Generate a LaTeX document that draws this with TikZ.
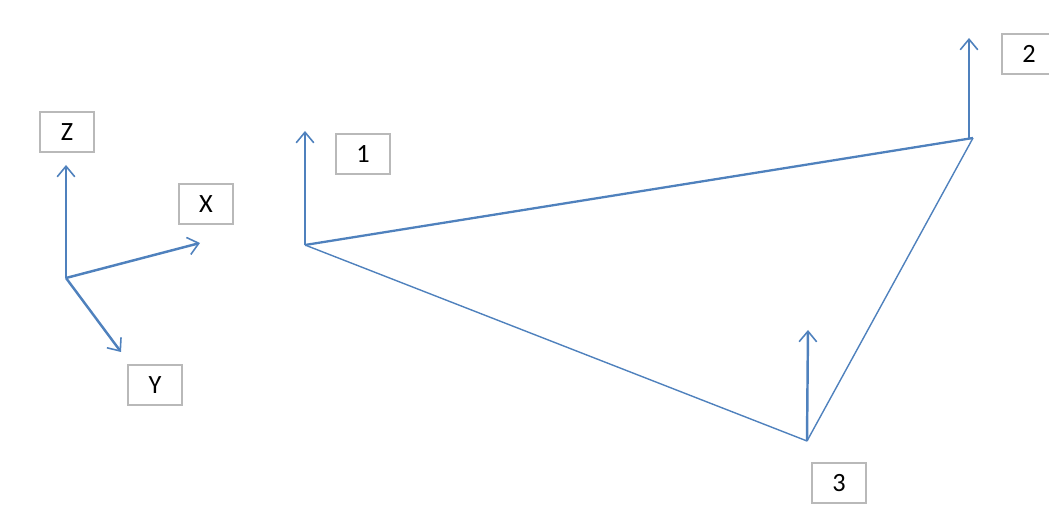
\documentclass[tikz,border=0pt]{standalone}
\usepackage{fontspec}
\setmainfont{Carlito}
\usepackage{tikz}
\usetikzlibrary{arrows.meta,positioning}
\definecolor{axcol}{RGB}{79,129,189}
\definecolor{boxcol}{RGB}{185,185,185}
\tikzset{
  lbl/.style    ={rectangle, draw=boxcol, line width=1.1pt, fill=white,
                  minimum width=31pt, minimum height=22.5pt, inner sep=0pt,
                  font=\fontsize{15}{17}\selectfont},
  vec/.style    ={-{Straight Barb[length=6pt,width=10pt,line width=0.9pt]},
                  draw=axcol, line width=1.4pt},
  edge/.style   ={draw=axcol, line width=0.8pt},
}

\begin{document}
\begin{tikzpicture}[x=0.02cm, y=-0.02cm]
    \useasboundingbox (0,0) rectangle (1049,519);
    % axes
    \coordinate (o) at (66,278);
    \coordinate (zt) at (66,165);
    \coordinate (xt) at (200,243);
    \coordinate (yt) at (121,352);
    \node[lbl] (zl) at (67,132) {Z};
    \node[lbl] (xl) at (206,204) {X};
    \node[lbl] (yl) at (155,385) {Y};
    \draw[vec] (o) -- (zt);
    \draw[vec] (o) -- (xt);
    \draw[vec] (o) -- (yt);
    % triangle
    \coordinate (p1) at (305,245);
    \coordinate (p2) at (973,138);
    \coordinate (p3) at (807,441);
    \draw[edge, line width=1.3pt] (p1) -- (p2);
    \draw[edge] (p1) -- (p3);
    \draw[edge] (p2) -- (p3);
    % vertex vectors
    \coordinate (b2) at (969,138);
    \coordinate (t1) at (305,131);
    \coordinate (t2) at (969,38);
    \coordinate (t3) at (808,330);
    \draw[vec] (p1) -- (t1);
    \draw[vec] (b2) -- (t2);
    \draw[vec] (p3) -- (t3);
    \node[lbl] (n1) at (363,154) {1};
    \node[lbl] (n2) at (1029,54) {2};
    \node[lbl] (n3) at (839,483) {3};
\end{tikzpicture}
\end{document}
